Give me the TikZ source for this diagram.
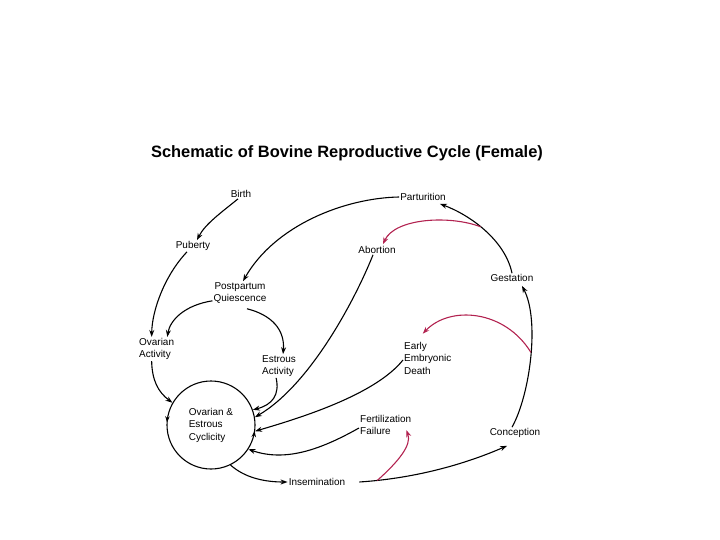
\documentclass[tikz,border=0pt]{standalone}
\usepackage{fontspec}
\setmainfont{Liberation Sans}
\usetikzlibrary{arrows.meta,decorations.markings}
\definecolor{redarr}{RGB}{178,34,80}
\tikzset{
  lbl/.style={font=\fontsize{10}{12.5}\selectfont, inner sep=1pt},
  arr/.style={line width=1.1pt, -{Stealth[length=7pt,width=5pt]}},
  rarr/.style={line width=1.1pt, redarr, -{Stealth[length=7pt,width=5pt]}},
}
\begin{document}
\begin{tikzpicture}[x=1bp,y=-1bp]
\useasboundingbox (0,0) rectangle (720,540);
\node[font=\bfseries\fontsize{16.5}{19}\selectfont] (title) at (347,153) {Schematic of Bovine Reproductive Cycle (Female)};

\node[lbl] (birth) at (241,194) {Birth};
\node[lbl] (puberty) at (193,246) {Puberty};
\node[lbl, align=center] (post) at (240,293) {Postpartum\\Quiescence};
\node[lbl] (part) at (423,197) {Parturition};
\node[lbl] (abort) at (377,250) {Abortion};
\node[lbl] (gest) at (512,278) {Gestation};
\node[lbl, align=left, anchor=west] (ovact) at (138,349) {Ovarian\\Activity};
\node[lbl, align=left, anchor=west] (estact) at (261,366) {Estrous\\Activity};
\node[lbl, align=left, anchor=west] (early) at (403,358) {Early\\Embryonic\\Death};
\node[lbl, align=left, anchor=west] (fert) at (359,425) {Fertilization\\Failure};
\node[lbl] (insem) at (317,482) {Insemination};
\node[lbl] (conc) at (515,433) {Conception};
\node[lbl, circle, draw, line width=1.1pt, minimum size=88bp, align=left,
  postaction={decorate, decoration={markings,
    mark=at position 0.49 with {\arrow{Stealth[length=6pt,width=4.5pt]}},
    mark=at position 0.978 with {\arrow{Stealth[length=6pt,width=4.5pt]}}}}]
  (circ) at (211,425) {Ovarian \&\\Estrous\\Cyclicity};

% black connectors
\draw[arr] ([xshift=-3pt]birth.south) .. controls (222,212) and (205,224) .. ([xshift=4pt]puberty.north);
\draw[arr] ([xshift=-6pt]puberty.south) .. controls (165,275) and (152,310) .. ([xshift=-5pt]ovact.north);
\draw[arr] (part.west) .. controls (345,198) and (275,225) .. ([xshift=3pt]post.north);
\draw[arr] ([yshift=4pt]post.south west) .. controls (185,305) and (170,320) .. ([xshift=-8pt]ovact.north east);
\draw[arr] ([xshift=7pt,yshift=-4pt]post.south) .. controls (272,315) and (285,330) .. ([xshift=4pt]estact.north);
\draw[arr] ([xshift=-5pt]ovact.south) .. controls (152,380) and (158,392) .. (circ.150);
\draw[arr] ([xshift=-3pt]estact.south) .. controls (280,395) and (272,405) .. (circ.20);
\draw[arr] ([xshift=-4pt]abort.south) .. controls (355,300) and (310,385) .. (circ.10);
\draw[arr] ([yshift=-2pt]early.west) .. controls (375,395) and (300,418) .. (circ.-8);
\draw[arr] ([yshift=-3pt]fert.west) .. controls (320,450) and (285,462) .. (circ.-33);
\draw[arr] (circ.-64) .. controls (245,478) and (265,482) .. (insem.west);
\draw[arr] ([xshift=13pt]insem.east) .. controls (420,478) and (470,462) .. coordinate[pos=0.1] (r3s) ([xshift=-8pt,yshift=-7pt]conc.south);
\draw[arr] ([xshift=-3pt]conc.north) .. controls (530,395) and (540,320) .. coordinate[pos=0.53] (r2s) ([xshift=10pt,yshift=-3pt]gest.south);
\draw[arr] (gest.north) .. controls (505,240) and (470,215) .. coordinate[pos=0.55] (r1s) ([xshift=17pt,yshift=-2pt]part.south);

% red connectors
\draw[rarr] (r1s) .. controls (450,215) and (395,218) .. ([xshift=6pt,yshift=1pt]abort.north);
\draw[rarr] (r2s) .. controls (505,310) and (450,305) .. ([xshift=-5pt,yshift=7pt]early.north);
\draw[rarr] (r3s) .. controls (398,462) and (412,445) .. ([xshift=-6pt,yshift=6pt]fert.south east);
\end{tikzpicture}
\end{document}
